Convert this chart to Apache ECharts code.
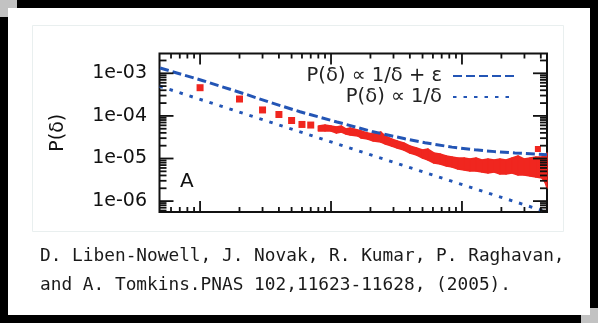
<!DOCTYPE html>
<html>
<head>
<meta charset="utf-8">
<script src="https://cdn.jsdelivr.net/npm/echarts@6/dist/echarts.min.js"></script>
<style>
  html, body { margin: 0; padding: 0; background: #000; }
  #chart { width: 598px; height: 323px; }
</style>
</head>
<body>
<div id="chart"></div>
<script>
// Probability of friendship P(δ) against rank δ, log-log.

// Individual binned points at the smallest ranks
const dotRank = [1, 2, 3, 4, 5, 6, 7];
const dotProb = [4.59e-4, 2.49e-4, 1.38e-4, 1.08e-4, 7.8e-5, 6.3e-5, 6.1e-5];

// Dense region: upper and lower envelope of the measured points
const bandRank = [8, 9, 10, 11, 12, 13, 14, 16, 17, 19, 21, 24, 26, 29, 32, 36, 40, 45, 50, 55,
                  61, 68, 76, 84, 93, 104, 115, 128, 142, 158, 176, 195, 217, 241, 268, 298, 331, 367, 408, 430, 446];
const bandHigh = [5.79e-5, 6.12e-5, 5.79e-5, 5.49e-5, 5.79e-5, 4.93e-5, 5.20e-5, 4.67e-5, 4.42e-5, 3.97e-5,
                  3.76e-5, 4.19e-5, 3.38e-5, 2.87e-5, 2.58e-5, 2.31e-5, 1.97e-5, 1.77e-5, 1.58e-5, 1.67e-5,
                  1.35e-5, 1.28e-5, 1.15e-5, 1.09e-5, 1.03e-5, 1.03e-5, 9.74e-6, 1.03e-5, 9.23e-6, 9.74e-6,
                  9.23e-6, 9.74e-6, 9.23e-6, 1.03e-5, 1.15e-5, 9.74e-6, 1.03e-5, 1.09e-5, 1.09e-5, 1.21e-5, 1.35e-5];
const bandLow  = [4.42e-5, 4.42e-5, 4.42e-5, 3.97e-5, 4.19e-5, 3.76e-5, 3.56e-5, 3.38e-5, 3.03e-5, 2.87e-5,
                  2.58e-5, 2.44e-5, 2.19e-5, 1.97e-5, 1.77e-5, 1.58e-5, 1.35e-5, 1.21e-5, 1.03e-5, 9.23e-6,
                  7.85e-6, 7.43e-6, 6.67e-6, 6.32e-6, 5.67e-6, 5.38e-6, 5.09e-6, 5.09e-6, 4.83e-6, 4.57e-6,
                  4.83e-6, 4.33e-6, 4.33e-6, 4.57e-6, 4.10e-6, 4.10e-6, 3.89e-6, 3.68e-6, 3.49e-6, 2.81e-6, 2.03e-6];

// Stray point above the band
const strayRank = [380];
const strayProb = [1.67e-5];

// Fit P(δ) ∝ 1/δ + ε
const fitRank = [0.495, 1.054, 2.285, 3.305, 5.80, 11.11, 20.56, 36.72, 52.19, 83.90, 125.7, 178.6, 253.9, 445.6];
const fitProb = [1.331e-3, 6.7e-4, 3.15e-4, 2.15e-4, 1.25e-4, 7.2e-5, 4.3e-5, 2.9e-5, 2.35e-5,
                 1.85e-5, 1.6e-5, 1.45e-5, 1.35e-5, 1.22e-5];

// Pure power law P(δ) ∝ 1/δ
const powRank = [0.49, 446];
const powProb = [5.0e-4, 5.5e-7];

// Tick positions
const xMajorTicks = [1, 10, 100];
const xMinorTicks = [0.6, 0.7, 0.8, 0.9, 2, 3, 4, 5, 6, 7, 8, 9, 20, 30, 40, 50, 60, 70, 80, 90, 200, 300, 400];
const yMajorTicks = [1e-6, 1e-5, 1e-4, 1e-3];
const yMinorTicks = [6e-7, 7e-7, 8e-7, 9e-7,
                     2e-6, 3e-6, 4e-6, 5e-6, 6e-6, 7e-6, 8e-6, 9e-6,
                     2e-5, 3e-5, 4e-5, 5e-5, 6e-5, 7e-5, 8e-5, 9e-5,
                     2e-4, 3e-4, 4e-4, 5e-4, 6e-4, 7e-4, 8e-4, 9e-4, 2e-3];

const nameFit = 'P(δ) ∝ 1/δ + ε';
const namePow = 'P(δ) ∝ 1/δ';
const captionLines = [
  'D. Liben-Nowell, J. Novak, R. Kumar, P. Raghavan,',
  'and A. Tomkins.PNAS 102,11623-11628, (2005).'
];

const X_MIN = 0.49, X_MAX = 446;
const Y_MIN = 5.55e-7, Y_MAX = 2.916e-3;

const RED = '#f0261f';
const BLUE = '#2355b5';
const INK = '#111';
const SANS = 'DejaVu Sans';

function expLabel(v) {
  const l = Math.log10(v);
  const e = Math.round(l);
  if (Math.abs(l - e) > 0.01) return '';
  return '1e' + (e < 0 ? '-' : '+') + String(Math.abs(e)).padStart(2, '0');
}

const xTickData = xMajorTicks.map(v => [v, Y_MIN, 1]).concat(xMinorTicks.map(v => [v, Y_MIN, 0]));
const yTickData = yMajorTicks.map(v => [X_MIN, v, 1]).concat(yMinorTicks.map(v => [X_MIN, v, 0]));

const tickStyle = { stroke: INK, lineWidth: 1.8 };

const legendText = { fontFamily: SANS, fontSize: 19.5, color: '#222', padding: [0, 6, 0, 0] };

const chart = echarts.init(document.getElementById('chart'), null, { renderer: 'canvas' });

chart.setOption({
  backgroundColor: '#000',
  animation: false,
  graphic: [
    { type: 'rect', z: -10, shape: { x: 0, y: 0, width: 17, height: 17 }, style: { fill: '#c2c2c2' } },
    { type: 'rect', z: -10, shape: { x: 581, y: 308, width: 17, height: 15 }, style: { fill: '#c2c2c2' } },
    { type: 'rect', z: -9, shape: { x: 8, y: 8, width: 582, height: 307 }, style: { fill: '#fff' } },
    { type: 'rect', z: -8, shape: { x: 32.5, y: 25.5, width: 531, height: 206 }, style: { fill: null, stroke: '#e9efef', lineWidth: 1 } },
    { type: 'text', z: 5, x: 40, y: 256, style: { text: captionLines[0], font: '17.8px "DejaVu Sans Mono"', fill: '#1a1a1a', verticalAlign: 'middle' } },
    { type: 'text', z: 5, x: 40, y: 285, style: { text: captionLines[1], font: '17.8px "DejaVu Sans Mono"', fill: '#1a1a1a', verticalAlign: 'middle' } }
  ],
  title: {
    text: 'A', left: 180, top: 172, padding: 0,
    textStyle: { fontFamily: SANS, fontSize: 20, fontWeight: 'normal', color: INK }
  },
  legend: [
    {
      data: [nameFit], right: 83, top: 66, padding: 0, orient: 'vertical', align: 'right',
      itemWidth: 61, itemHeight: 20, selectedMode: false, itemStyle: { opacity: 0 },
      textStyle: legendText
    },
    {
      data: [namePow], right: 83, top: 87, padding: 0, orient: 'vertical', align: 'right',
      itemWidth: 61, itemHeight: 20, selectedMode: false, itemStyle: { opacity: 0 },
      textStyle: legendText
    }
  ],
  grid: {
    left: 159.5, right: 51, top: 53.5, bottom: 111,
    show: true, borderColor: INK, borderWidth: 2, backgroundColor: 'transparent',
    outerBoundsMode: 'none'
  },
  xAxis: {
    type: 'log', logBase: 10, min: X_MIN, max: X_MAX,
    axisLine: { show: false }, axisTick: { show: false }, axisLabel: { show: false }, splitLine: { show: false }
  },
  yAxis: {
    type: 'log', logBase: 10, min: Y_MIN, max: Y_MAX,
    axisLine: { show: false }, axisTick: { show: false }, splitLine: { show: false },
    axisLabel: { formatter: expLabel, fontFamily: SANS, fontSize: 19, color: INK, margin: 12.5, showMinLabel: false, showMaxLabel: false },
    name: 'P(δ)', nameLocation: 'middle', nameGap: 92,
    nameTextStyle: { fontFamily: SANS, fontSize: 19, color: INK }
  },
  series: [
    {
      type: 'custom', silent: true, z: 2,
      data: bandRank.map((r, i) => [r, bandHigh[i], bandLow[i]]),
      encode: { x: 0, y: [1, 2] },
      renderItem(params, api) {
        const i = params.dataIndex;
        if (i >= bandRank.length - 1) return null;
        const p1 = api.coord([bandRank[i], bandHigh[i]]);
        const p2 = api.coord([bandRank[i + 1], bandHigh[i + 1]]);
        const p3 = api.coord([bandRank[i + 1], bandLow[i + 1]]);
        const p4 = api.coord([bandRank[i], bandLow[i]]);
        return {
          type: 'polygon',
          shape: { points: [p1, p2, p3, p4] },
          style: { fill: RED, stroke: RED, lineWidth: 1.5, lineJoin: 'round' }
        };
      }
    },
    {
      type: 'scatter', silent: true, z: 3, symbol: 'rect', symbolSize: 7,
      itemStyle: { color: RED, opacity: 1 },
      data: dotRank.map((r, i) => [r, dotProb[i]])
    },
    {
      type: 'scatter', silent: true, z: 3, symbol: 'rect', symbolSize: 6,
      itemStyle: { color: RED, opacity: 1 },
      data: strayRank.map((r, i) => [r, strayProb[i]])
    },
    {
      name: namePow, type: 'line', z: 4, symbol: 'none', silent: true,
      lineStyle: { color: BLUE, width: 3, type: [3.5, 7] },
      itemStyle: { color: BLUE },
      data: powRank.map((r, i) => [r, powProb[i]])
    },
    {
      name: nameFit, type: 'line', z: 4, symbol: 'none', silent: true,
      lineStyle: { color: BLUE, width: 3, type: [9, 4] },
      itemStyle: { color: BLUE },
      data: fitRank.map((r, i) => [r, fitProb[i]])
    },
    {
      type: 'custom', silent: true, z: 5, clip: false,
      data: xTickData,
      renderItem(params, api) {
        const d = xTickData[params.dataIndex];
        const len = d[2] ? 11 : 5;
        const b = api.coord([d[0], Y_MIN]);
        const t = api.coord([d[0], Y_MAX]);
        return {
          type: 'group',
          children: [
            { type: 'line', shape: { x1: b[0], y1: b[1], x2: b[0], y2: b[1] - len }, style: tickStyle },
            { type: 'line', shape: { x1: t[0], y1: t[1], x2: t[0], y2: t[1] + len }, style: tickStyle }
          ]
        };
      }
    },
    {
      type: 'custom', silent: true, z: 5, clip: false,
      data: yTickData,
      renderItem(params, api) {
        const d = yTickData[params.dataIndex];
        const len = d[2] ? 14 : 7;
        const l = api.coord([X_MIN, d[1]]);
        const r = api.coord([X_MAX, d[1]]);
        return {
          type: 'group',
          children: [
            { type: 'line', shape: { x1: l[0], y1: l[1], x2: l[0] + len, y2: l[1] }, style: tickStyle },
            { type: 'line', shape: { x1: r[0], y1: r[1], x2: r[0] - len, y2: r[1] }, style: tickStyle }
          ]
        };
      }
    }
  ]
});
</script>
</body>
</html>
